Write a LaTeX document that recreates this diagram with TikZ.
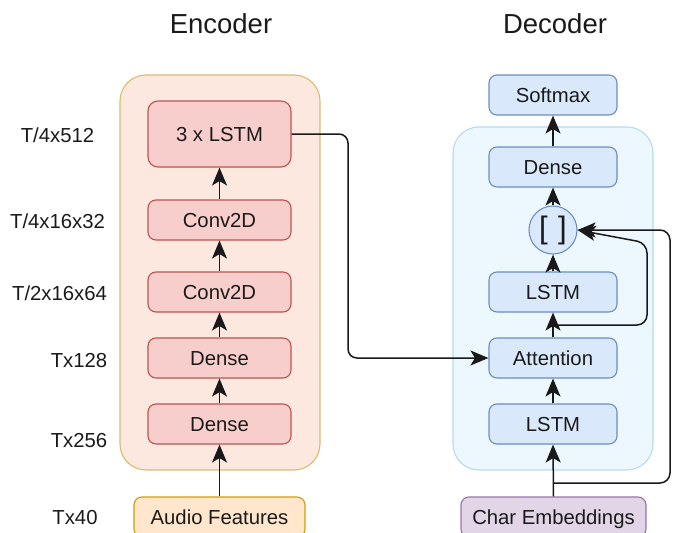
\documentclass[tikz,border=0pt]{standalone}
\usepackage{fontspec}
\setmainfont{Liberation Sans}
\usetikzlibrary{arrows.meta}
\definecolor{encfill}{HTML}{FDE8E0}
\definecolor{encdraw}{HTML}{D9BC6E}
\definecolor{decfill}{HTML}{EDF8FE}
\definecolor{decdraw}{HTML}{B6DAF0}
\definecolor{rfill}{HTML}{F8CECC}
\definecolor{rdraw}{HTML}{B85450}
\definecolor{bfill}{HTML}{DAE8FC}
\definecolor{bdraw}{HTML}{6C8EBF}
\definecolor{ofill}{HTML}{FFE6CC}
\definecolor{odraw}{HTML}{D79B00}
\definecolor{pfill}{HTML}{E1D5E7}
\definecolor{pdraw}{HTML}{9673A6}
\definecolor{txt}{HTML}{1A1A1A}
\tikzset{
  every node/.style={text=txt},
  txtfont/.style={font=\fontsize{20.3}{24}\selectfont},
  box/.style={txtfont, draw, line width=1.1pt, rounded corners=8pt, inner sep=0pt,
    text height=14.5pt, text depth=0pt, minimum height=40pt},
  redbox/.style={box, fill=rfill, draw=rdraw, minimum width=143pt},
  bluebox/.style={box, fill=bfill, draw=bdraw, minimum width=128pt},
  container/.style={line width=1.1pt, rounded corners=26pt},
  lbl/.style={txtfont, anchor=base, inner sep=0pt},
  ttl/.style={font=\fontsize{27.5}{32}\selectfont, anchor=base, inner sep=0pt},
  conn/.style={line width=1.5pt, draw=black!90,
    -{Stealth[length=18pt,width=15pt,inset=4.5pt]}},
}
\begin{document}
\begin{tikzpicture}[x=1pt,y=-1pt]
\path[use as bounding box] (0,0) rectangle (673,533);
% containers
\draw[container, fill=encfill, draw=encdraw] (120,75) rectangle (320,470);
\draw[container, fill=decfill, draw=decdraw] (453,127) rectangle (653,470);
% titles
\node[ttl] (enct) at (221,33) {Encoder};
\node[ttl] (dect) at (555,33) {Decoder};
% labels
\node[lbl] (l1) at (57.5,142) {T/4x512};
\node[lbl] (l2) at (57.5,228) {T/4x16x32};
\node[lbl] (l3) at (59.5,300) {T/2x16x64};
\node[lbl] (l4) at (79,367) {Tx128};
\node[lbl] (l5) at (79,447) {Tx256};
\node[lbl] (l6) at (75,524) {Tx40};
% encoder nodes
\node[redbox, minimum height=66pt, rounded corners=10pt] (lstm3) at (219.5,134) {3 x LSTM};
\node[redbox] (conv1) at (219.5,220) {Conv2D};
\node[redbox] (conv2) at (219.5,292) {Conv2D};
\node[redbox] (dense1) at (219.5,358) {Dense};
\node[redbox] (dense2) at (219.5,424) {Dense};
\node[box, fill=ofill, draw=odraw, minimum width=171pt] (audio) at (219.5,517) {Audio Features};
% decoder nodes
\node[bluebox] (soft) at (553,95) {Softmax};
\node[bluebox] (ddense) at (553,167) {Dense};
\node[circle, draw=bdraw, fill=bfill, line width=1.1pt, minimum size=48pt, inner sep=0pt,
  font=\fontsize{31}{36}\selectfont] (circ) at (553,230) {[\,\,]};
\node[bluebox] (dlstm) at (553,292) {LSTM};
\node[bluebox] (att) at (553,358) {Attention};
\node[bluebox] (dlstm2) at (553,424) {LSTM};
\node[box, fill=pfill, draw=pdraw, minimum width=185pt] (char) at (553.5,517) {Char Embeddings};
% encoder connectors
\draw[conn] (audio.north) -- (dense2.south);
\draw[conn] (dense2.north) -- (dense1.south);
\draw[conn] (dense1.north) -- (conv2.south);
\draw[conn] (conv2.north) -- (conv1.south);
\draw[conn] (conv1.north) -- (lstm3.south);
% cross connector
\coordinate (cx) at (348,134);
\draw[conn, rounded corners=9pt] (lstm3.east) -- (cx) |- (att.west);
% decoder connectors
\draw[conn] (char.north) -- (dlstm2.south);
\draw[conn] (dlstm2.north) -- (att.south);
\draw[conn] (att.north) -- (dlstm.south);
\draw[conn] (dlstm.north) -- (circ.south);
\draw[conn] (circ.north) -- (ddense.south);
\draw[conn] (ddense.north) -- (soft.south);
% skip connectors
\coordinate (b1) at (553,325);
\coordinate (b1r) at (647,325);
\coordinate (b1u) at (647,243);
\draw[conn, rounded corners=10pt] (b1) -- (b1r) -- (b1u) -- (circ.east);
\coordinate (b2) at (553.5,483);
\coordinate (b2r) at (670,483);
\coordinate (b2u) at (670,230);
\draw[conn, rounded corners=10pt] (b2) -- (b2r) -- (b2u) -- (circ.east);
\end{tikzpicture}
\end{document}
